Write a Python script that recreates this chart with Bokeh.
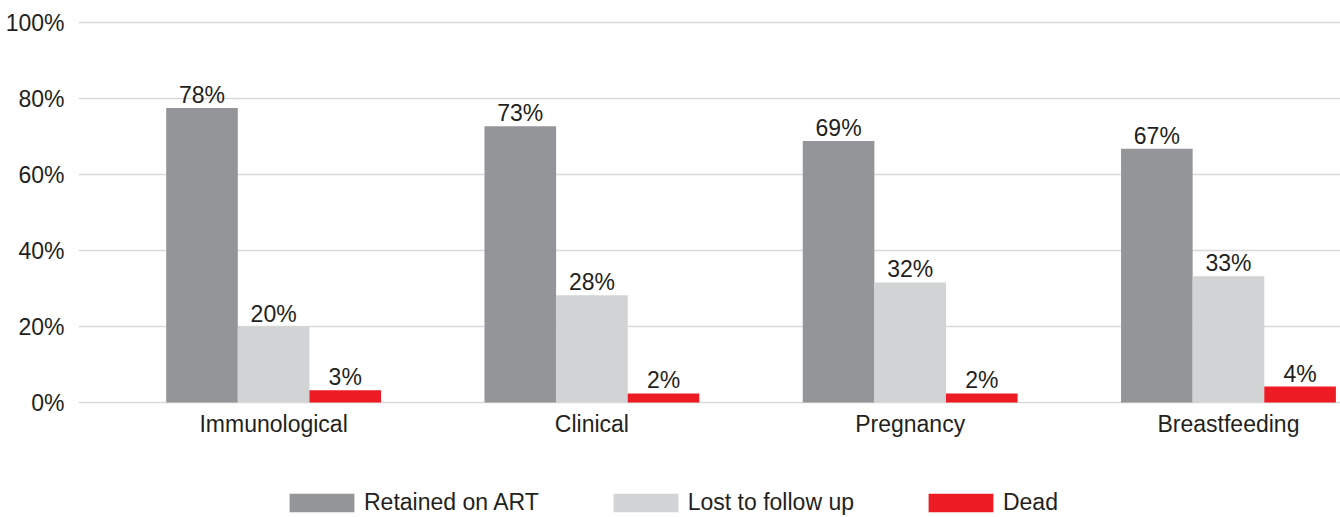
from bokeh.plotting import figure
from bokeh.models import ColumnDataSource, FixedTicker, Legend, LegendItem, Range1d
from bokeh.core.properties import value
from bokeh.embed import file_html
from bokeh.resources import INLINE

categories = ["Immunological", "Clinical", "Pregnancy", "Breastfeeding"]
retained = [77.5, 72.7, 68.8, 66.8]
lost = [20.0, 28.2, 31.6, 33.2]
dead = [3.2, 2.4, 2.4, 4.2]
series_names = ["Retained on ART", "Lost to follow up", "Dead"]
y_ticks = [0, 20, 40, 60, 80, 100]
y_tick_labels = ["0%", "20%", "40%", "60%", "80%", "100%"]

colors = ["#939598", "#d1d3d4", "#ed1c24"]
FONT = "Liberation Sans"
TXT = "#231f20"
FS = "23px"

p = figure(width=1340, height=517, output_backend="svg", toolbar_location=None,
           x_range=Range1d(-0.613, 3.352), y_range=Range1d(-30.26, 100.53),
           min_border_left=78, min_border_right=0, min_border_top=20,
           min_border_bottom=0)
p.outline_line_color = None
p.background_fill_color = "white"
p.border_fill_color = "white"

bw = 0.225
offsets = [-bw, 0.0, bw]
renderers = []
for vals, off, col in zip([retained, lost, dead], offsets, colors):
    xs = [i + off for i in range(len(categories))]
    src = ColumnDataSource(dict(x=xs, top=vals, lbl=[f"{round(v):d}%" for v in vals]))
    r = p.vbar(x="x", top="top", width=bw, source=src, fill_color=col, line_color=None)
    renderers.append(r)
    p.text(x="x", y="top", text="lbl", source=src, text_align="center",
           text_baseline="bottom", y_offset=0, text_font=value(FONT),
           text_font_size=FS, text_color=TXT)

# category labels under the 0% line
cat_src = ColumnDataSource(dict(x=list(range(len(categories))), y=[0] * len(categories), t=categories))
p.text(x="x", y="y", text="t", source=cat_src, text_align="center", text_baseline="middle",
       y_offset=21, text_font=value(FONT), text_font_size=FS, text_color=TXT)

p.xgrid.grid_line_color = None
p.ygrid.grid_line_color = "#d9d9d9"
p.ygrid.grid_line_width = 1.5
p.ygrid.ticker = FixedTicker(ticks=y_ticks)

p.xaxis.visible = False
p.yaxis.ticker = FixedTicker(ticks=y_ticks)
p.yaxis.major_label_overrides = {t: l for t, l in zip(y_ticks, y_tick_labels)}
p.yaxis.axis_line_color = None
p.yaxis.major_tick_line_color = None
p.yaxis.minor_tick_line_color = None
p.yaxis.major_label_text_font = FONT
p.yaxis.major_label_text_font_size = FS
p.yaxis.major_label_text_color = TXT
p.yaxis.major_label_standoff = 8

legend = Legend(items=[LegendItem(label=n, renderers=[r]) for n, r in zip(series_names, renderers)],
                orientation="horizontal", location=(203, 1),
                glyph_width=81, glyph_height=23, label_standoff=2, spacing=66,
                label_text_font=FONT, label_text_font_size=FS, label_text_color=TXT,
                border_line_color=None, background_fill_alpha=0, padding=2, margin=0)
p.add_layout(legend, "center")

open("out.html", "w").write(file_html(p, INLINE))
